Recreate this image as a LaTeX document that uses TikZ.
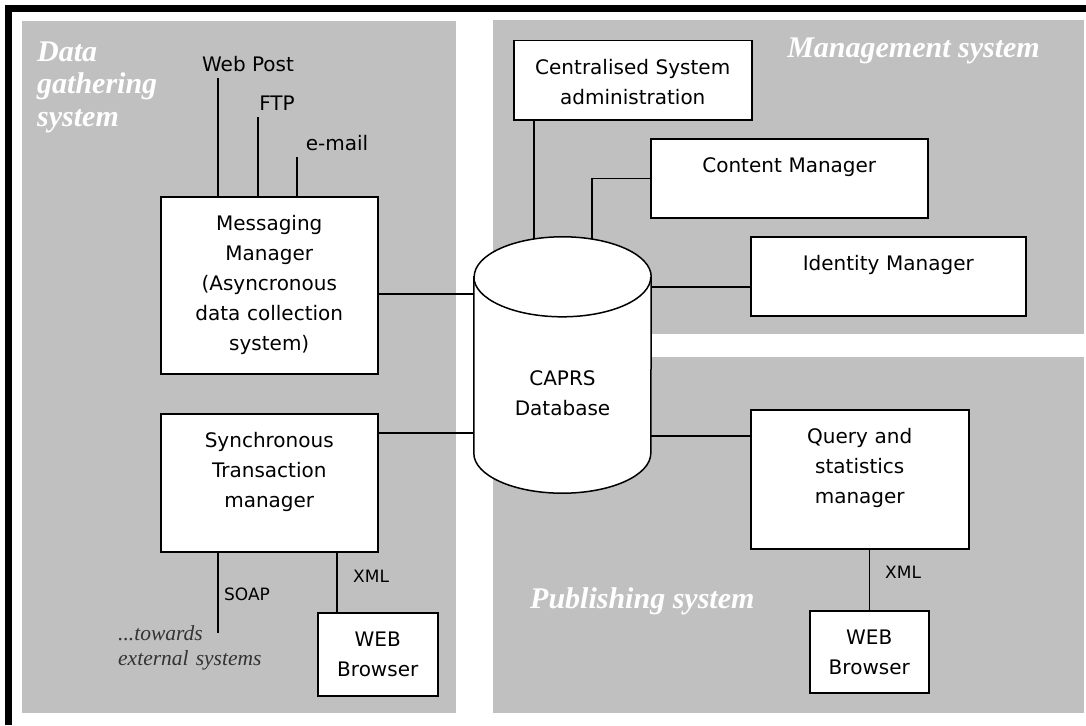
\documentclass[tikz,border=0pt]{standalone}
\usepackage{fontspec}
\setmainfont{Liberation Serif}
\newfontfamily\boxfont{DejaVu Sans}
\usepackage{tikz}
\usetikzlibrary{calc}
\usetikzlibrary{positioning}
\pgfdeclarelayer{panels}
\pgfdeclarelayer{wires}
\pgfsetlayers{panels,wires,main}
\definecolor{panelgray}{RGB}{192,192,192}
\tikzset{box/.style={rectangle,draw=black,fill=white,line width=1.5pt,inner sep=0pt,text height=34pt,align=center,font=\boxfont\fontsize{20}{30}\selectfont}}
\tikzset{dbase/.style={rectangle,draw=none,inner sep=0pt,minimum width=177pt,minimum height=256pt}}
\tikzset{dbline/.style={draw=black,fill=white,line width=1.5pt}}
\tikzset{area/.style={fill=panelgray,draw=none}}
\tikzset{areatitle/.style={text=white,inner sep=0pt,font=\fontsize{30}{32.5}\selectfont\bfseries\itshape}}
\tikzset{feed/.style={inner sep=0pt,font=\boxfont\fontsize{20}{30}\selectfont}}
\tikzset{proto/.style={inner sep=0pt,font=\boxfont\fontsize{17}{20}\selectfont}}
\tikzset{wire/.style={line width=1.5pt}}

\begin{document}
\begin{tikzpicture}[x=1pt,y=-1pt]
\useasboundingbox (0,0) rectangle (1086,725);

% frame and the three areas
\begin{pgfonlayer}{panels}
\fill[white] (0,0) rectangle (1086,725);
\fill[black] (5,5) rectangle (1086,12);
\fill[black] (5,5) rectangle (12,725);
\path[area] (22,21) rectangle (456,713);
\path[area] (493,20) rectangle (1084,334);
\path[area] (493,357) rectangle (1084,713);
\end{pgfonlayer}

\node[areatitle, text width=160pt, align=left, anchor=base west] (gathertitle) at (37,61) {Data\\gathering\\system};
\node[areatitle, anchor=base east] (mgmttitle) at (1040,57) {Management system};
\node[areatitle, anchor=base west] (pubtitle) at (530,608) {Publishing system};

% database
\node[dbase] (db) at (562.5,365) {};
\draw[dbline] ([yshift=-40pt]db.north west) -- ([yshift=40pt]db.south west)
  arc[start angle=180, end angle=360, x radius=88.5pt, y radius=40pt]
  -- ([yshift=-40pt]db.north east)
  arc[start angle=0, end angle=180, x radius=88.5pt, y radius=40pt] -- cycle;
\draw[dbline, fill=none] ([yshift=-40pt]db.north west)
  arc[start angle=180, end angle=360, x radius=88.5pt, y radius=40pt];
\node[feed, text width=120pt, align=center, anchor=base] (dbtxt) at (562.5,385) {CAPRS\\Database};

% data gathering
\node[box, text width=217pt, text depth=143pt, anchor=north west] (msg) at (160,196) {Messaging\\Manager\\(Asyncronous\\data collection\\system)};
\node[box, text width=217pt, text depth=104pt, anchor=north west] (sync) at (160,413) {Synchronous\\Transaction\\manager};
\node[box, text width=120pt, text depth=49pt, anchor=north west] (browserA) at (317,612) {WEB\\Browser};

\coordinate (wp) at (218,78);
\coordinate (ftp) at (258,117);
\coordinate (mail) at (297,157);
\coordinate (soapend) at (218,633);
\node[feed, anchor=base] (wplabel) at (248,71) {Web Post};
\node[feed, anchor=base] (ftplabel) at (277,110) {FTP};
\node[feed, anchor=base] (maillabel) at (337,150) {e-mail};
\node[proto, anchor=base west] (soaplabel) at (224,600) {SOAP};
\node[proto, anchor=base west] (xmlA) at (353,582) {XML};
\node[inner sep=0pt, text width=170pt, align=left, anchor=base west, text=black!80, font=\fontsize{21.5}{25}\selectfont\itshape] (external) at (118,640) {...towards\\external systems};

% management
\node[box, text width=238pt, text depth=45pt, anchor=north west] (admin) at (513,40) {Centralised System\\administration};
\node[box, text width=277pt, text depth=45pt, anchor=north west] (content) at (650,138) {Content Manager};
\node[box, text width=275pt, text depth=45pt, anchor=north west] (ident) at (750,236) {Identity Manager};

% publishing
\node[box, text width=218pt, text depth=105pt, anchor=north west] (query) at (750,409) {Query and\\statistics\\manager};
\node[box, text width=119pt, text depth=48pt, anchor=north west] (browserB) at (809,610) {WEB\\Browser};
\node[proto, anchor=base west] (xmlB) at (885,578) {XML};

\begin{pgfonlayer}{wires}
\begin{scope}[wire]
 \draw (msg.north -| wp) -- (wp);
 \draw (msg.north -| ftp) -- (ftp);
 \draw (msg.north -| mail) -- (mail);
 \draw (msg.east |- 0,294) -- (db.center |- 0,294);
 \draw (sync.east |- 0,433) -- (db.center |- 0,433);
 \draw (sync.south -| soapend) -- (soapend);
 \draw (sync.south -| 337,0) -- (browserA.north -| 337,0);
 \draw (admin.south -| 534,0) -- (db.center -| 534,0);
 \draw (content.west) -| ([xshift=29.5pt]db.center);
 \draw (db.center |- 0,287) -- (ident.west |- 0,287);
 \draw (db.center |- 0,436) -- (query.west |- 0,436);
 \draw (query.south -| browserB.north) -- (browserB.north);
\end{scope}
\end{pgfonlayer}
\end{tikzpicture}
\end{document}
